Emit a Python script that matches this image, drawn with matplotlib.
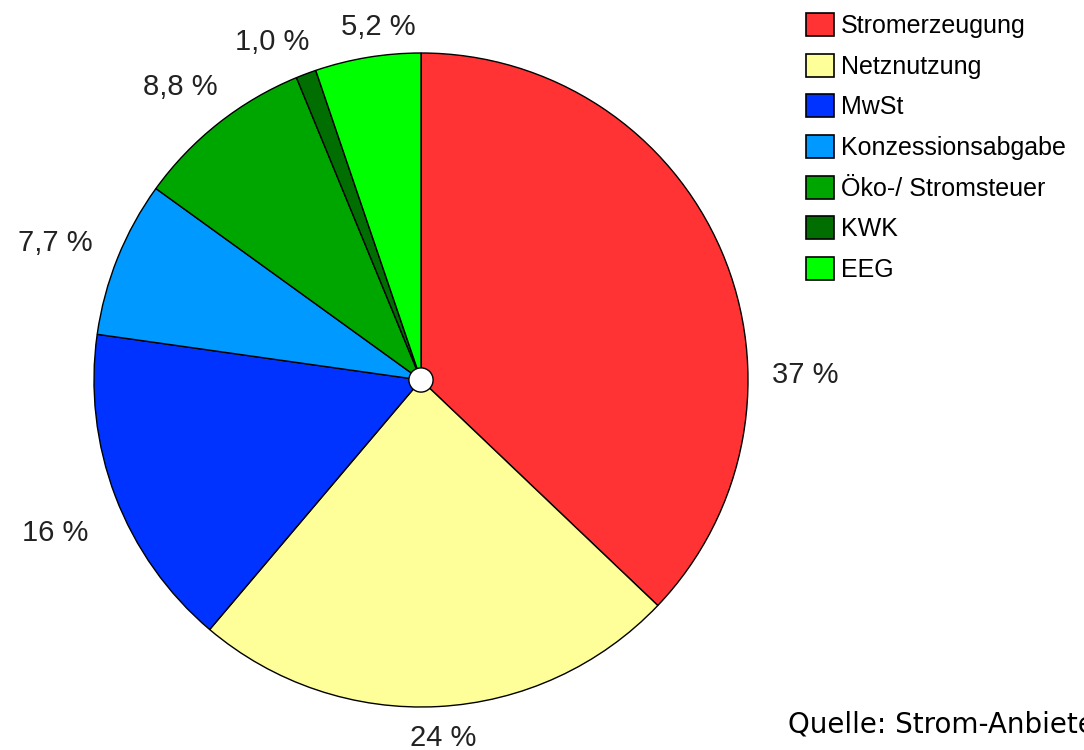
import matplotlib.pyplot as plt
from matplotlib.patches import Patch, Circle

categories = ['Stromerzeugung', 'Netznutzung', 'MwSt', 'Konzessionsabgabe',
              'Öko-/ Stromsteuer', 'KWK', 'EEG']
shares = [37, 24, 16, 7.7, 8.8, 1.0, 5.2]
decimals = [0, 0, 0, 1, 1, 1, 1]
colors = ['#FF3333', '#FFFF99', '#0033FF', '#0099FF', '#00A600', '#006E00', '#00FF00']

# where each percentage label sits (pie radius = 1)
label_pos = [(1.174, 0.015), (0.067, -1.095), (-1.119, -0.468), (-1.119, 0.419),
             (-0.737, 0.896), (-0.456, 1.034), (-0.131, 1.080)]


def fmt(v, d):
    return f'{v:.{d}f} %'.replace('.', ',')


W, H = 1084, 750
fig = plt.figure(figsize=(W / 100, H / 100), dpi=100)
cx, cy, r = 421, 380, 327
ax = fig.add_axes([(cx - r) / W, (H - cy - r) / H, 2 * r / W, 2 * r / H])

wedges, _ = ax.pie(shares, colors=colors, startangle=90, counterclock=False,
                   radius=1, wedgeprops=dict(edgecolor='black', linewidth=1))
ax.add_patch(Circle((0, 0), 0.037, facecolor='white', edgecolor='black',
                    linewidth=1, zorder=5))
ax.set_xlim(-1, 1)
ax.set_ylim(-1, 1)
ax.axis('off')

for v, d, (x, y) in zip(shares, decimals, label_pos):
    ax.text(x, y, fmt(v, d), ha='center', va='center', fontsize=21,
            family='Liberation Sans', color='#222222')

handles = [Patch(facecolor=c, edgecolor='black', linewidth=1.2) for c in colors]
fig.legend(handles, categories, loc='upper left', bbox_to_anchor=(801 / W, 1 - 8 / H),
           frameon=False, prop={'family': 'Liberation Sans', 'size': 18},
           handlelength=1.1, handleheight=1.05, handletextpad=0.3, labelspacing=0.62,
           borderpad=0.2, borderaxespad=0)

fig.text(788 / W, 1 - 733 / H, 'Quelle: Strom-Anbieter', fontsize=20,
         family='DejaVu Sans', va='baseline', ha='left')

fig.savefig('out.png', dpi=100)
